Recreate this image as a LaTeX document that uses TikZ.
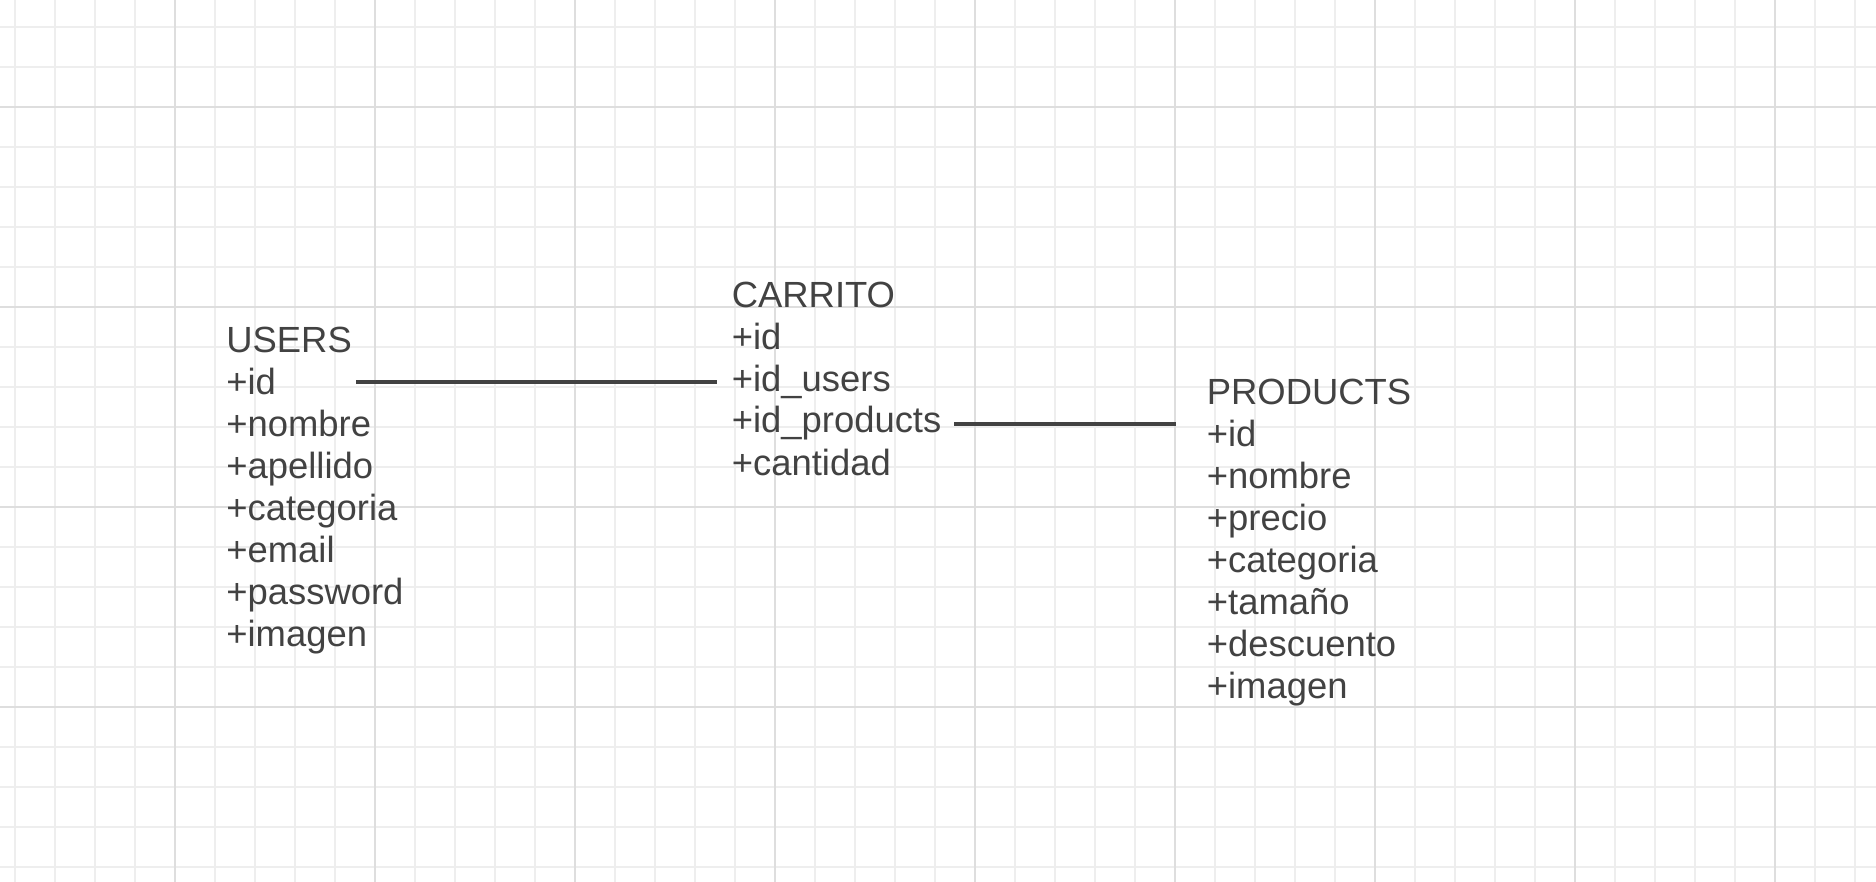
\documentclass[tikz,border=0pt]{standalone}
\usepackage{fontspec}
\setmainfont{Liberation Sans}
\usetikzlibrary{positioning}
\definecolor{gridminor}{HTML}{EEEEEE}
\definecolor{gridmajor}{HTML}{DEDEDE}
\definecolor{ink}{HTML}{424242}

\begin{document}
\begin{tikzpicture}[
    x=0.5pt, y=-0.5pt,
    minor line/.style={draw=gridminor, line width=0.6pt},
    major line/.style={draw=gridmajor, line width=0.7pt},
    entity/.style={
        anchor=base west,   % base = ultima linea
        align=left,
        inner sep=0pt,
        text=ink,
        font=\fontsize{18.2}{21}\selectfont
    },
    link/.style={draw=ink, line width=2pt}
]
    \useasboundingbox (0,0) rectangle (1876,882);
    \fill[white] (0,0) rectangle (1876,882);

    % grid
    \foreach \x in {15,55,...,1875} \draw[minor line] (\x,0) -- (\x,882);
    \foreach \y in {27,67,...,881} \draw[minor line] (0,\y) -- (1876,\y);
    \foreach \x in {175,375,...,1775} \draw[major line] (\x,0) -- (\x,882);
    \foreach \y in {107,307,...,707} \draw[major line] (0,\y) -- (1876,\y);

    % tablas
    \node[entity] (users) at (226,646.5) {USERS\\+id\\+nombre\\+apellido\\+categoria\\+email\\+password\\+imagen};
    \node[entity] (carrito) at (731.5,475) {CARRITO\\+id\\+id\_users\\+id\_products\\+cantidad};
    \node[entity] (products) at (1206.5,698.5) {PRODUCTS\\+id\\+nombre\\+precio\\+categoria\\+tamaño\\+descuento\\+imagen};

    % puntos de conexion
    \coordinate (users-out) at (356,382);
    \coordinate (carrito-in) at (717,382);
    \coordinate (carrito-out) at (954,424);
    \coordinate (products-in) at (1176,424);

    \draw[link] (users-out) -- (carrito-in);
    \draw[link] (carrito-out) -- (products-in);
\end{tikzpicture}
\end{document}
